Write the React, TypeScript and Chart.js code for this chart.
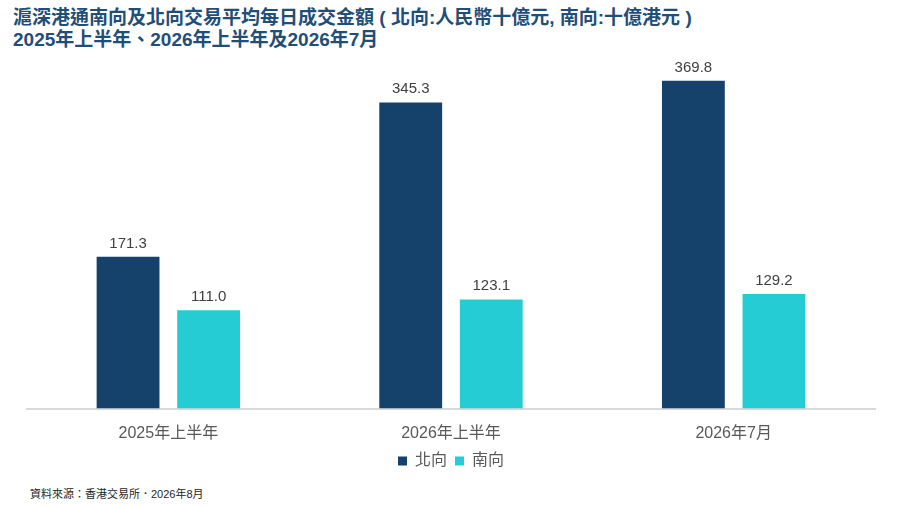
import Chart from "chart.js/auto";
import { useEffect, useRef } from "react";

const categories = ["2025年上半年", "2026年上半年", "2026年7月"];
const northbound = [171.3, 345.3, 369.8];
const southbound = [111.0, 123.1, 129.2];
const seriesNames = ["北向", "南向"];

const FONT = "'Liberation Sans', Arial, 'Noto Sans CJK TC', sans-serif";

const valueLabels = {
  id: "valueLabels",
  afterDatasetsDraw(chart: Chart) {
    const ctx = chart.ctx;
    ctx.save();
    ctx.font = `15px ${FONT}`;
    ctx.fillStyle = "#404040";
    ctx.textAlign = "center";
    ctx.textBaseline = "alphabetic";
    chart.data.datasets.forEach((ds, i) => {
      const meta = chart.getDatasetMeta(i);
      meta.data.forEach((bar, j) => {
        const v = ds.data[j] as number;
        ctx.fillText(v.toFixed(1), bar.x, bar.y - 9);
      });
    });
    ctx.restore();
  }
};

export default function App() {
  const canvasRef = useRef<HTMLCanvasElement | null>(null);

  useEffect(() => {
    const canvas = canvasRef.current;
    if (!canvas) return;

    const chart = new Chart(canvas, {
      type: "bar",
      data: {
        labels: categories,
        datasets: [
          {
            label: seriesNames[0],
            data: northbound,
            backgroundColor: "#15426a",
            categoryPercentage: 0.57,
            barPercentage: 0.78
          },
          {
            label: seriesNames[1],
            data: southbound,
            backgroundColor: "#26ccd4",
            categoryPercentage: 0.57,
            barPercentage: 0.78
          }
        ]
      },
      options: {
        responsive: true,
        maintainAspectRatio: false,
        animation: false,
        layout: {
          padding: { top: 4, left: 27, right: 25, bottom: 0 }
        },
        plugins: {
          legend: {
            position: "bottom",
            labels: {
              boxWidth: 9,
              boxHeight: 9,
              color: "#595959",
              padding: 8,
              font: { family: FONT, size: 16 }
            }
          },
          tooltip: { enabled: false }
        },
        scales: {
          x: {
            grid: { display: false, drawTicks: false },
            border: { display: true, color: "#d9d9d9", width: 2 },
            ticks: {
              color: "#595959",
              padding: 15,
              font: { family: FONT, size: 16 }
            },
            afterFit: (scale) => {
              scale.height = 36.5;
            }
          },
          y: {
            display: false,
            min: 0,
            max: 400
          }
        }
      },
      plugins: [valueLabels]
    });

    return () => chart.destroy();
  }, []);

  return (
    <div
      style={{
        position: "absolute",
        left: 0,
        top: 0,
        width: 900,
        height: 506,
        background: "#ffffff",
        fontFamily: FONT,
        overflow: "hidden"
      }}
    >
      <div
        style={{
          position: "absolute",
          left: 13,
          top: 7,
          color: "#1f4e79",
          fontWeight: 700,
          fontSize: 19,
          lineHeight: "22px",
          whiteSpace: "nowrap"
        }}
      >
        <div>滬深港通南向及北向交易平均每日成交金額 ( 北向:人民幣十億元, 南向:十億港元 )</div>
        <div>2025年上半年、2026年上半年及2026年7月</div>
      </div>
      <div style={{ position: "absolute", left: 0, top: 50, width: 900, height: 429 }}>
        <canvas ref={canvasRef} />
      </div>
      <div
        style={{
          position: "absolute",
          left: 30,
          top: 485,
          fontSize: 11,
          color: "#262626"
        }}
      >
        資料來源：香港交易所．2026年8月
      </div>
    </div>
  );
}
